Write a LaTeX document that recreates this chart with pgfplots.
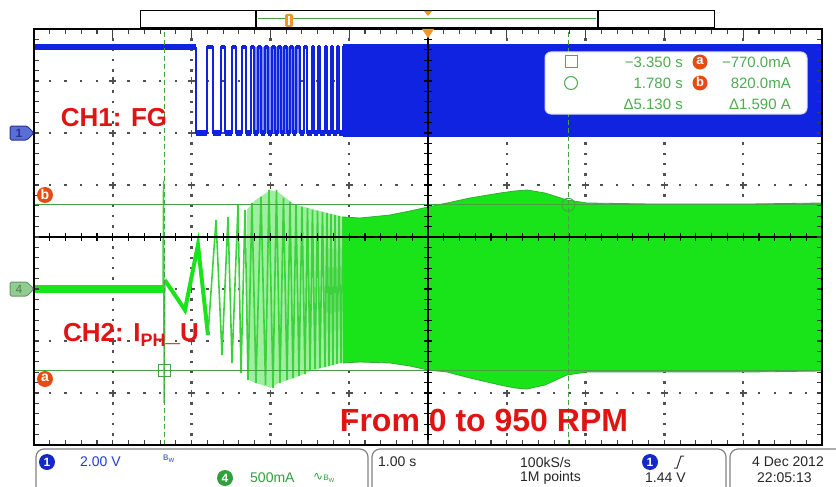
\documentclass[border=0pt]{standalone}
\usepackage{pgfplots}
\pgfplotsset{compat=1.18}
\usepackage{fontspec}
\setmainfont{Liberation Sans}
\newfontfamily\dejavu{DejaVu Sans}
\definecolor{scopeblue}{RGB}{15,35,225}
\definecolor{lightblue}{RGB}{125,145,235}
\definecolor{scopegreen}{RGB}{25,228,25}
\definecolor{linegreen}{RGB}{60,210,60}
\definecolor{paleg}{RGB}{160,238,160}
\definecolor{edgegreen}{RGB}{50,175,50}
\definecolor{curgreen}{RGB}{70,160,70}
\definecolor{txtgreen}{RGB}{80,170,80}
\definecolor{lblred}{RGB}{225,20,20}
\definecolor{tagorange}{RGB}{230,75,20}
\definecolor{trigorange}{RGB}{240,150,40}
\definecolor{dotgray}{RGB}{80,80,80}
\definecolor{statusblue}{RGB}{40,60,200}
\definecolor{circblue}{RGB}{20,40,200}
\definecolor{statusgreen}{RGB}{50,160,60}
\definecolor{tagblue}{RGB}{90,110,215}
\definecolor{tagbluedark}{RGB}{40,50,150}
\definecolor{taggreen}{RGB}{145,205,145}
\definecolor{taggreendark}{RGB}{100,150,100}
\definecolor{boxgray}{RGB}{130,130,130}
\begin{document}
\begin{tikzpicture}
% ---------- graticule (dotted grid) ----------
\begin{scope}[x=1pt,y=-1pt]
\fill[white] (0,0) rectangle (836,487);
\foreach \k in {1,2,3,4,6,7,8,9} {
  \foreach \j in {1,...,39}
    \fill[dotgray] ({34+78.8*\k-1.2},{29+10.4*\j-1.2}) rectangle ++(2.4,2.4);}
\foreach \k in {1,2,3,5,6,7} {
  \foreach \i in {1,...,49}
    \fill[dotgray] ({34+15.76*\i-1.2},{29+52*\k-1.2}) rectangle ++(2.4,2.4);}
\foreach \k in {1,2,3,4,6,7,8,9} {
  \foreach \j in {1,2,3,5,6,7} {
    \fill[dotgray] ({34+78.8*\k-3.5},{29+52*\j-0.8}) rectangle ++(7,1.6);
    \fill[dotgray] ({34+78.8*\k-0.8},{29+52*\j-3.5}) rectangle ++(1.6,7);}}
\end{scope}
% ---------- traces (time in s = divisions, vertical in divisions) ----------
\begin{axis}[at={(34pt,-445pt)}, anchor=south west, x=78.8pt, y=52pt,
  xmin=-5, xmax=5, ymin=-4, ymax=4, hide axis, unbounded coords=jump, clip=true]
% CH1 (FG) blue
\addplot[scopeblue, line width=6.5pt] coordinates {(-5,3.65) (-2.944,3.65)};
\addplot[lightblue, fill=lightblue, draw=none] coordinates {(-2.195,2.0) (-2.195,3.65) (-1.624,3.65) (-1.624,2.0)};
\addplot[scopeblue, line width=1.5pt] coordinates {
(-2.944,3.65)(-2.944,2.0)(-2.805,2.0)(-2.805,3.65)(-2.728,3.65)(-2.728,2.0)(-2.627,2.0)(-2.627,3.65)
(-2.576,3.65)(-2.576,2.0)(-2.487,2.0)(-2.487,3.65)(-2.437,3.65)(-2.437,2.0)(-2.360,2.0)(-2.360,3.65)
(-2.310,3.65)(-2.310,2.0)(-2.246,2.0)(-2.246,3.65)(-2.208,3.65)(-2.208,2.0)(-2.157,2.0)(-2.157,3.65)
(-2.119,3.65)(-2.119,2.0)(-2.069,2.0)(-2.069,3.65)(-2.030,3.65)(-2.030,2.0)(-1.980,2.0)(-1.980,3.65)
(-1.942,3.65)(-1.942,2.0)(-1.904,2.0)(-1.904,3.65)(-1.865,3.65)(-1.865,2.0)(-1.827,2.0)(-1.827,3.65)
(-1.789,3.65)(-1.789,2.0)(-1.751,2.0)(-1.751,3.65)(-1.713,3.65)(-1.713,2.0)(-1.675,2.0)(-1.675,3.65)
(-1.624,3.65)(-1.624,2.0)(-1.574,2.0)(-1.574,3.65)(-1.536,3.65)(-1.536,2.0)(-1.472,2.0)(-1.472,3.65)
(-1.447,3.65)(-1.447,2.0)(-1.396,2.0)(-1.396,3.65)(-1.371,3.65)(-1.371,2.0)(-1.307,2.0)(-1.307,3.65)
(-1.282,3.65)(-1.282,2.0)(-1.231,2.0)(-1.231,3.65)(-1.206,3.65)(-1.206,2.0)(-1.155,2.0)(-1.155,3.65)
(-1.129,3.65)(-1.129,2.0)(-1.079,2.0)(-1.079,3.65)(-1.053,3.65)};
% thick plateaus (noise band)
\addplot[scopeblue, line width=6pt] coordinates {
(-2.944,2)(-2.805,2)(-2.80,nan)(-2.728,2)(-2.627,2)(-2.60,nan)(-2.576,2)(-2.487,2)(-2.45,nan)
(-2.437,2)(-2.360,2)(-2.33,nan)(-2.310,2)(-2.246,2)(-2.22,nan)(-2.208,2)(-2.157,2)(-2.13,nan)
(-2.119,2)(-2.069,2)(-2.05,nan)(-2.030,2)(-1.980,2)(-1.95,nan)(-1.942,2)(-1.904,2)(-1.88,nan)
(-1.865,2)(-1.827,2)(-1.80,nan)(-1.789,2)(-1.751,2)(-1.72,nan)(-1.713,2)(-1.675,2)(-1.65,nan)
(-1.624,2)(-1.574,2)(-1.55,nan)(-1.536,2)(-1.472,2)(-1.46,nan)(-1.447,2)(-1.396,2)(-1.38,nan)
(-1.371,2)(-1.307,2)(-1.29,nan)(-1.282,2)(-1.231,2)(-1.21,nan)(-1.206,2)(-1.155,2)(-1.14,nan)
(-1.129,2)(-1.079,2)};
\addplot[scopeblue, line width=4pt] coordinates {
(-2.805,3.65)(-2.728,3.65)(-2.70,nan)(-2.627,3.65)(-2.576,3.65)(-2.55,nan)(-2.487,3.65)(-2.437,3.65)(-2.40,nan)
(-2.360,3.65)(-2.310,3.65)(-2.28,nan)(-2.246,3.65)(-2.208,3.65)(-2.18,nan)(-2.157,3.65)(-2.119,3.65)(-2.10,nan)
(-2.069,3.65)(-2.030,3.65)(-2.00,nan)(-1.980,3.65)(-1.942,3.65)(-1.92,nan)(-1.904,3.65)(-1.865,3.65)(-1.85,nan)
(-1.827,3.65)(-1.789,3.65)(-1.77,nan)(-1.751,3.65)(-1.713,3.65)(-1.69,nan)(-1.675,3.65)(-1.624,3.65)(-1.60,nan)
(-1.574,3.65)(-1.536,3.65)(-1.50,nan)(-1.472,3.65)(-1.447,3.65)(-1.42,nan)(-1.396,3.65)(-1.371,3.65)(-1.34,nan)
(-1.307,3.65)(-1.282,3.65)(-1.26,nan)(-1.231,3.65)(-1.206,3.65)(-1.18,nan)(-1.155,3.65)(-1.129,3.65)};
\addplot[scopeblue, fill=scopeblue, draw=none] coordinates {(-1.079,1.93)(-1.079,3.72)(5,3.72)(5,1.93)};
% CH4 (phase current) green
\addplot[scopegreen, line width=8pt] coordinates {(-5,-1) (-3.363,-1)};
\addplot[paleg, fill=paleg, draw=none] coordinates {
(-2.30,0.52)(-2.2,0.70)(-2.0,0.90)(-1.9,0.86)(-1.7,0.63)(-1.5,0.55)(-1.3,0.47)(-1.079,0.39)
(-1.079,-2.41)(-1.3,-2.50)(-1.5,-2.58)(-1.7,-2.71)(-1.9,-2.81)(-2.0,-2.90)(-2.2,-2.80)(-2.30,-2.73)};
\addplot[linegreen, line width=1.5pt] coordinates {(-3.363,-1)(-3.356,1.077)(-3.348,-3.192)(-3.340,-0.827)};
\addplot[scopegreen, line width=4pt] coordinates {(-3.340,-0.827)(-3.084,-1.404)(-2.919,-0.154)(-2.792,-1.885)};
\addplot[linegreen, line width=1.6pt] coordinates {
(-2.792,-1.885)(-2.690,0.327)(-2.614,-2.269)(-2.538,0.385)(-2.487,-2.423)(-2.411,0.615)(-2.373,-2.615)
(-2.322,0.519)(-2.284,-2.75)(-2.234,0.654)(-2.183,-2.808)(-2.119,0.769)(-2.062,-2.846)(-2.018,0.904)
(-1.967,-2.904)(-1.923,0.904)(-1.878,-2.808)(-1.834,0.75)(-1.789,-2.75)(-1.751,0.673)(-1.713,-2.712)
(-1.675,0.615)(-1.637,-2.673)(-1.599,0.577)(-1.561,-2.635)(-1.529,0.558)(-1.497,-2.577)(-1.466,0.519)
(-1.434,-2.538)(-1.402,0.5)(-1.371,-2.519)(-1.339,0.481)(-1.307,-2.5)(-1.282,0.462)(-1.256,-2.481)
(-1.231,0.442)(-1.206,-2.462)(-1.180,0.423)(-1.155,-2.442)(-1.129,0.404)(-1.104,-2.423)(-1.079,0.385)};
\addplot[scopegreen, fill=scopegreen, draw=edgegreen, line width=0.8pt] coordinates {
(-1.079,0.385)(-0.863,0.365)(-0.482,0.423)(-0.228,0.5)(0,0.577)(0.241,0.654)(0.533,0.75)(0.914,0.846)
(1.104,0.885)(1.256,0.904)(1.485,0.846)(1.764,0.712)(2.018,0.654)(2.817,0.635)(3.452,0.635)(4.086,0.635)(5,0.654)
(5,-2.577)(4.086,-2.596)(3.452,-2.596)(2.817,-2.596)(2.018,-2.596)(1.764,-2.654)(1.485,-2.846)(1.256,-2.923)
(1.104,-2.904)(0.914,-2.846)(0.533,-2.712)(0.241,-2.596)(0,-2.558)(-0.228,-2.481)(-0.482,-2.423)(-0.863,-2.404)(-1.079,-2.423)};
% cursors
\addplot[curgreen, line width=1pt] coordinates {(-5,0.62)(5,0.62)};
\addplot[curgreen, line width=1pt] coordinates {(-5,-2.57)(5,-2.57)};
\addplot[curgreen, line width=1pt, dash pattern=on 5pt off 3pt] coordinates {(-3.35,-4)(-3.35,4)};
\addplot[curgreen, line width=1pt, dash pattern=on 5pt off 3pt] coordinates {(1.78,-4)(1.78,4)};
\addplot[curgreen, only marks, mark=square, mark size=6pt, mark options={line width=0.9pt}] coordinates {(-3.35,-2.57)};
\addplot[curgreen, only marks, mark=o, mark size=6.5pt, mark options={line width=0.9pt}] coordinates {(1.78,0.62)};
\end{axis}
% ---------- overlays ----------
\begin{scope}[x=1pt,y=-1pt]
% center cross with ticks
\draw[black, line width=1.4pt] (34,237) -- (822,237);
\draw[black, line width=1.4pt] (428,29) -- (428,445);
\foreach \i in {1,...,49} \draw[black, line width=1.1pt] ({34+15.76*\i},233) -- ({34+15.76*\i},241);
\foreach \j in {1,...,39} \draw[black, line width=1.1pt] (424,{29+10.4*\j}) -- (432,{29+10.4*\j});
% edge ticks
\foreach \j in {1,...,39} {
  \draw[black!75, line width=1.1pt] (34,{29+10.4*\j}) -- (39,{29+10.4*\j});
  \draw[black!75, line width=1.1pt] (822,{29+10.4*\j}) -- (817,{29+10.4*\j});}
\foreach \i in {1,...,49} {
  \draw[black!75, line width=1.1pt] ({34+15.76*\i},445) -- ({34+15.76*\i},440);
  \draw[black!75, line width=1.1pt] ({34+15.76*\i},29) -- ({34+15.76*\i},34);}
\foreach \k in {1,...,9} \draw[black!75, line width=1.1pt] ({34+78.8*\k},29) -- ({34+78.8*\k},38);
\draw[black, line width=1.6pt] (34,29) rectangle (822,445);
% record bar
\draw[fill=white, line width=0.9pt] (140,10) rectangle (714,27);
\draw[line width=2pt] (256,10) -- (256,27);
\draw[line width=2pt] (598,10) -- (598,27);
\draw[curgreen, line width=1pt] (258,19) -- (596,19);
\fill[trigorange] (424,11) -- (432,11) -- (428,16) -- cycle;
\fill[trigorange, rounded corners=1.5pt] (285,14) rectangle (293,27);
\draw[white, line width=1.2pt] (289,16) -- (289,25);
\fill[trigorange] (422,29) -- (434,29) -- (428,38) -- cycle;
% channel tags
\filldraw[fill=tagblue, draw=tagbluedark, line width=1pt, rounded corners=1.5pt] (10,126) -- (27,126) -- (34,133) -- (27,140) -- (10,140) -- cycle;
\node[text=tagbluedark, font=\fontsize{12}{12}\selectfont\bfseries] at (19,133) {1};
\filldraw[fill=taggreen, draw=taggreendark, line width=1pt, rounded corners=1.5pt] (10,282) -- (27,282) -- (34,289) -- (27,296) -- (10,296) -- cycle;
\node[text=taggreendark!80!black, font=\fontsize{12}{12}\selectfont] at (19,289) {4};
\fill[tagorange] (45,195) circle[radius=8pt];
\node[white, font=\fontsize{14}{14}\selectfont\bfseries] at (45,194) {b};
\fill[tagorange] (45,379) circle[radius=8pt];
\node[white, font=\fontsize{14}{14}\selectfont\bfseries] at (45,378) {a};
% red annotations
\node[lblred, font=\fontsize{26}{28}\selectfont\bfseries] at (114,118) {CH1: FG};
\node[lblred, font=\fontsize{26}{28}\selectfont\bfseries, anchor=base west, inner sep=0pt] at (63,341) {CH2: I\raisebox{-5pt}{\fontsize{18}{18}\selectfont PH}\_U};
\node[lblred, font=\fontsize{32}{34}\selectfont\bfseries] at (484,420) {From 0 to 950 RPM};
% cursor readout
\filldraw[fill=white, draw={rgb,255:red,215;green,215;blue,240}, rounded corners=6pt, line width=1pt] (545,52) rectangle (807,114);
\draw[txtgreen, line width=1pt] (565,56) rectangle (577,68);
\draw[txtgreen, line width=1pt] (571,83) circle[radius=6.5pt];
\begin{scope}[every node/.style={text=txtgreen, font=\fontsize{15}{15}\selectfont, inner sep=0pt}]
\node[anchor=east] at (683,62) {−3.350 s};
\node[anchor=east] at (683,83) {1.780 s};
\node[anchor=east] at (683,104) {Δ5.130 s};
\node[anchor=east] at (791,62) {−770.0mA};
\node[anchor=east] at (791,83) {820.0mA};
\node[anchor=east] at (791,104) {Δ1.590 A};
\end{scope}
\fill[tagorange] (700,62) circle[radius=7.5pt];
\node[white, font=\fontsize{13}{13}\selectfont\bfseries] at (700,61) {a};
\fill[tagorange] (700,83) circle[radius=7.5pt];
\node[white, font=\fontsize{13}{13}\selectfont\bfseries] at (700,82) {b};
% status bar
\draw[boxgray, line width=1.2pt, rounded corners=8pt] (36,449) rectangle (368,500);
\draw[boxgray, line width=1.2pt, rounded corners=8pt] (372,449) rectangle (726,500);
\draw[boxgray, line width=1.2pt, rounded corners=8pt] (730,449) rectangle (860,500);
\fill[circblue] (47,462) circle[radius=8pt];
\node[white, font=\fontsize{12}{12}\selectfont\bfseries] at (47,462) {1};
\node[text=statusblue, font=\fontsize{14}{14}\selectfont, anchor=west, inner sep=0pt] at (80,462) {2.00 V};
\node[text=statusblue, font=\fontsize{8}{8}\selectfont, anchor=west, inner sep=0pt] at (163,459) {B\raisebox{-2pt}{\fontsize{6}{6}\selectfont W}};
\fill[statusgreen] (225,478) circle[radius=8pt];
\node[white, font=\fontsize{12}{12}\selectfont\bfseries] at (225,478) {4};
\node[text=statusgreen, font=\fontsize{14}{14}\selectfont, anchor=west, inner sep=0pt] at (250,478) {500mA};
\node[text=statusgreen, font=\fontsize{12}{12}\selectfont, anchor=west, inner sep=0pt] at (313,478) {{\dejavu ∿}\fontsize{8}{8}\selectfont B\raisebox{-2pt}{\fontsize{6}{6}\selectfont W}};
\begin{scope}[every node/.style={text=black!85, font=\fontsize{14}{14}\selectfont, anchor=west, inner sep=0pt}]
\node at (378,462) {1.00 s};
\node at (520,462) {100kS/s};
\node at (520,478) {1M points};
\node at (645,478) {1.44 V};
\node at (752,462) {4 Dec  2012};
\node at (757,478) {22:05:13};
\end{scope}
\fill[circblue] (650,462) circle[radius=8pt];
\node[white, font=\fontsize{12}{12}\selectfont\bfseries] at (650,462) {1};
\draw[black!80, line width=1pt] (674,468) -- (677,468) -- (681,456) -- (684,456);
\end{scope}
\pgfresetboundingbox
\path[use as bounding box] (0pt,0pt) rectangle (836pt,-487pt);
\end{tikzpicture}
\end{document}
